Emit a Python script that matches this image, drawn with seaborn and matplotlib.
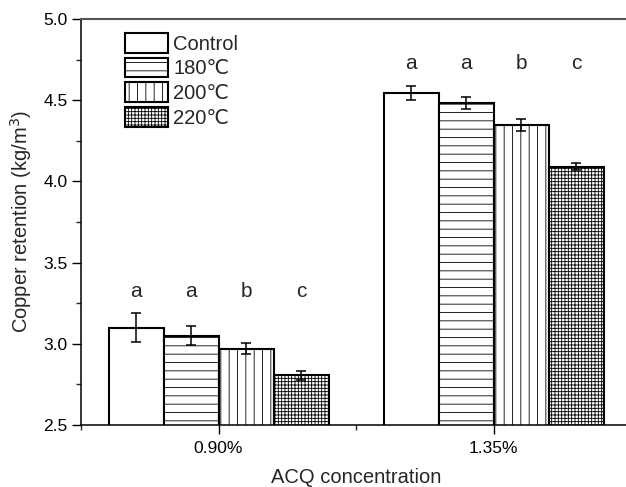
import numpy as np
import pandas as pd
import matplotlib
matplotlib.use("Agg")
import matplotlib.pyplot as plt
import seaborn as sns
from matplotlib.patches import Patch
from matplotlib.ticker import MultipleLocator, FormatStrFormatter

# ---- data ----
concentrations = ['0.90%', '1.35%']
treatments = ['Control', '180℃', '200℃', '220℃']
means_090 = [3.10, 3.05, 2.97, 2.805]
means_135 = [4.545, 4.48, 4.347, 4.09]
errs_090 = [0.088, 0.060, 0.034, 0.030]
errs_135 = [0.045, 0.037, 0.036, 0.022]
letters_090 = ['a', 'a', 'b', 'c']
letters_135 = ['a', 'a', 'b', 'c']

df = pd.DataFrame({
    'conc': [concentrations[0]] * 4 + [concentrations[1]] * 4,
    'treat': treatments * 2,
    'value': means_090 + means_135,
    'err': errs_090 + errs_135,
    'letter': letters_090 + letters_135,
})

sns.set_style('ticks')
plt.rcParams['font.family'] = ['Liberation Sans', 'DejaVu Sans']
plt.rcParams['hatch.linewidth'] = 0.6
plt.rcParams['hatch.color'] = 'black'

hatches = ['', '--', '||', '+++++']

fig = plt.figure(figsize=(6.26, 4.87), dpi=100)
ax = fig.add_axes([81 / 626, 62 / 487, 550 / 626, 406 / 487])

sns.barplot(data=df, x='conc', y='value', hue='treat', order=concentrations,
            hue_order=treatments, errorbar=None, width=0.8, legend=False,
            palette=['white'] * 4, edgecolor='black', linewidth=1.5,
            saturation=1, ax=ax)

bar_containers = list(ax.containers)[:len(treatments)]

for i, cont in enumerate(bar_containers):
    sub = df[df['treat'] == treatments[i]].set_index('conc').loc[concentrations]
    for bar, (_, row) in zip(cont.patches, sub.iterrows()):
        bar.set_hatch(hatches[i])
        bar.set_facecolor('white')
        bar.set_edgecolor('black')
        cx = bar.get_x() + bar.get_width() / 2
        ax.errorbar(cx, row['value'], yerr=row['err'], fmt='none', ecolor='black',
                    elinewidth=1.1, capsize=3.6, capthick=1.1, zorder=5)

# significance letters
for j, c in enumerate(concentrations):
    sub = df[df['conc'] == c]
    top = (sub['value'] + sub['err']).max()
    for i, t in enumerate(treatments):
        bar = bar_containers[i].patches[j]
        cx = bar.get_x() + bar.get_width() / 2
        ax.text(cx, top + 0.075, sub[sub['treat'] == t]['letter'].iloc[0],
                ha='center', va='bottom', fontsize=15)

ax.set_xlim(-0.5, 1.5)
ax.set_ylim(2.5, 5.0)
ax.yaxis.set_major_locator(MultipleLocator(0.5))
ax.yaxis.set_minor_locator(MultipleLocator(0.25))
ax.yaxis.set_major_formatter(FormatStrFormatter('%.1f'))
ax.xaxis.set_minor_locator(MultipleLocator(0.5))
ax.tick_params(axis='both', which='major', direction='out', length=6.5, width=1.0,
               labelsize=12.5, pad=3.0, colors='black')
ax.tick_params(axis='both', which='minor', direction='out', length=3.6, width=1.0)
ax.tick_params(axis='x', which='major', pad=5)

ax.set_xlabel('ACQ concentration', fontsize=14.5, labelpad=9)
ax.set_ylabel('Copper retention (kg/m$^3$)', fontsize=14.5, labelpad=7)

for s in ['left', 'bottom']:
    ax.spines[s].set_linewidth(1.1)
    ax.spines[s].set_color('black')
ax.spines['top'].set_visible(True)
ax.spines['top'].set_color('#555555')
ax.spines['top'].set_linewidth(1.5)
ax.spines['right'].set_visible(True)

handles = [Patch(facecolor='white', edgecolor='black', linewidth=1.5, hatch=h, label=t)
           for h, t in zip(hatches, treatments)]
ax.legend(handles=handles, loc='upper left', bbox_to_anchor=(0.065, 0.985),
          frameon=False, fontsize=14.5, handlelength=2.15, handleheight=1.12,
          labelspacing=0.2, handletextpad=0.25, borderaxespad=0.0)

fig.savefig('out.png', dpi=100)
